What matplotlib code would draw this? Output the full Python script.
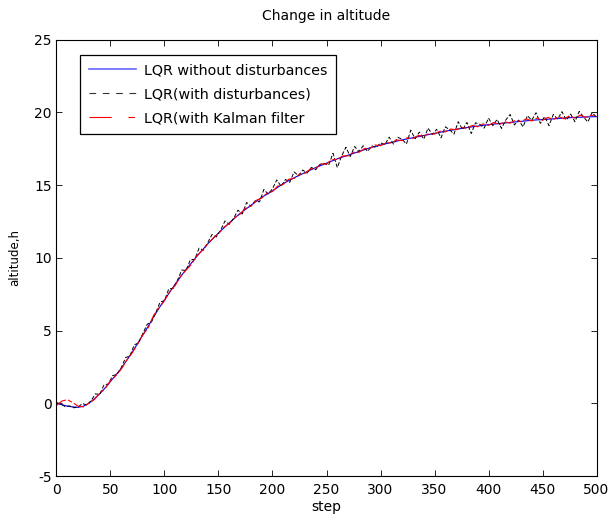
import numpy as np
import matplotlib
matplotlib.use("Agg")
import matplotlib.pyplot as plt
from matplotlib.lines import Line2D

# --- data ---

# LQR without disturbances (smooth blue)
steps_blue = [0, 5, 10, 15, 20, 25, 30, 35, 40, 45, 50, 55, 60, 65, 70, 75, 80, 85, 90, 95,
              100, 110, 120, 130, 140, 150, 160, 170, 180, 190, 200, 210, 220, 230, 240,
              250, 260, 270, 280, 290, 300, 320, 340, 360, 380, 400, 420, 440, 460, 480, 500]
alt_blue = [0.00, -0.10, -0.20, -0.25, -0.28, -0.20, 0.00, 0.30, 0.65, 1.05, 1.50, 1.95,
            2.40, 2.95, 3.50, 4.10, 4.70, 5.30, 5.95, 6.55, 7.10, 8.20, 9.20, 10.10, 10.95,
            11.70, 12.40, 13.05, 13.60, 14.15, 14.60, 15.10, 15.50, 15.85, 16.20, 16.50,
            16.80, 17.05, 17.30, 17.55, 17.75, 18.10, 18.40, 18.70, 18.95, 19.15, 19.30,
            19.45, 19.55, 19.65, 19.70]

# LQR with disturbances (noisy black, every 4 steps)
steps_dist = list(range(0, 501, 4))
alt_dist = [0.05, -0.06, -0.22, -0.18, -0.31, -0.26, -0.02, -0.12, 0.17, 0.65,
            0.60, 1.27, 1.32, 1.90, 1.98, 2.45, 3.14, 3.25, 4.02, 4.14,
            4.80, 5.43, 5.59, 6.24, 6.96, 7.05, 7.87, 7.88, 8.45, 9.16,
            9.12, 9.87, 9.88, 10.66, 10.52, 11.03, 11.60, 11.43, 11.90, 12.53,
            12.30, 12.71, 13.27, 13.01, 13.80, 13.55, 13.92, 13.84, 14.69, 14.38,
            14.75, 15.35, 14.90, 15.38, 15.19, 15.90, 15.64, 16.03, 15.82, 16.21,
            16.05, 16.42, 16.49, 16.36, 17.18, 16.20, 17.00, 17.60, 16.95, 17.65,
            17.30, 17.70, 17.30, 17.69, 17.57, 17.90, 17.77, 18.29, 17.81, 18.28,
            18.15, 17.81, 18.77, 18.18, 18.64, 18.15, 18.91, 18.47, 18.83, 18.24,
            19.00, 18.80, 18.50, 19.35, 18.80, 19.30, 18.54, 19.28, 19.17, 18.91,
            19.60, 19.08, 19.51, 18.89, 19.47, 19.85, 19.13, 19.46, 18.99, 19.77,
            19.45, 19.97, 19.24, 19.71, 19.08, 19.85, 19.52, 20.04, 19.46, 19.88,
            19.35, 20.06, 19.67, 19.33, 19.99, 19.65]

# LQR with Kalman filter (red, every 5 steps)
steps_kal = list(range(0, 501, 5))
alt_kal = [-0.15, 0.15, 0.25, 0.05, -0.20, -0.25, 0.00, 0.25, 0.70, 1.00,
           1.55, 1.90, 2.35, 2.95, 3.45, 4.05, 4.70, 5.20, 6.05, 6.55,
           7.05, 7.70, 8.10, 8.75, 9.15, 9.55, 10.15, 10.50, 10.95, 11.35,
           11.65, 12.10, 12.35, 12.75, 13.00, 13.40, 13.55, 13.95, 14.10, 14.45,
           14.55, 14.95, 15.05, 15.40, 15.45, 15.75, 15.80, 16.10, 16.15, 16.45,
           16.45, 16.75, 16.75, 17.00, 17.00, 17.25, 17.25, 17.50, 17.50, 17.75,
           17.70, 17.90, 17.90, 18.10, 18.05, 18.25, 18.20, 18.40, 18.35, 18.55,
           18.50, 18.70, 18.65, 18.85, 18.80, 18.95, 18.90, 19.10, 19.00, 19.20,
           19.10, 19.30, 19.15, 19.35, 19.25, 19.45, 19.35, 19.55, 19.40, 19.60,
           19.45, 19.65, 19.50, 19.70, 19.55, 19.75, 19.60, 19.80, 19.65, 19.80,
           19.70]

labels = ['LQR without disturbances', 'LQR(with disturbances)', 'LQR(with Kalman filter']

# --- plot ---
plt.rcParams['font.family'] = ['DejaVu Sans']
plt.rcParams['axes.unicode_minus'] = False

fig = plt.figure(figsize=(6.12, 5.2), dpi=100)
ax = fig.add_axes([0.0923, 0.0846, 0.8824, 0.8394])

ax.plot(steps_blue, alt_blue, color='blue', lw=0.8)
ax.plot(steps_dist, alt_dist, color='black', lw=0.7, ls=(0, (4, 2)))
ax.plot(steps_kal, alt_kal, color='red', lw=0.8, ls=(0, (10, 2, 4, 2)))

ax.set_xlim(0, 500)
ax.set_ylim(-5, 25)
ax.set_xticks(np.arange(0, 501, 50))
ax.set_yticks(np.arange(-5, 26, 5))
ax.tick_params(direction='in', top=True, right=True, length=4, width=0.6, labelsize=10)
ax.tick_params(axis='x', pad=5)
ax.tick_params(axis='y', pad=3.5)
for s in ax.spines.values():
    s.set_linewidth(0.8)

ax.set_title('Change in altitude', fontsize=10, pad=14)
ax.set_xlabel('step', fontsize=10, labelpad=2)
ax.set_ylabel('altitude,h', fontsize=8.5, labelpad=9)

# legend entries drawn with the dash patterns seen in the legend box
handles = [Line2D([], [], color='#6666ff', lw=1.2),
           Line2D([], [], color='#333333', lw=0.8, ls=(0, (6, 6))),
           Line2D([], [], color='red', lw=0.8, ls=(0, (20, 15, 6, 15)))]
leg = ax.legend(handles, labels, loc='upper left', bbox_to_anchor=(0.0435, 0.9656),
                borderaxespad=0, frameon=True, fancybox=False, edgecolor='black',
                framealpha=1, handlelength=3.35, handletextpad=0.5, borderpad=0.6,
                labelspacing=0.7, fontsize=10.3)
leg.get_frame().set_linewidth(0.9)

fig.savefig('out.png', dpi=100)
